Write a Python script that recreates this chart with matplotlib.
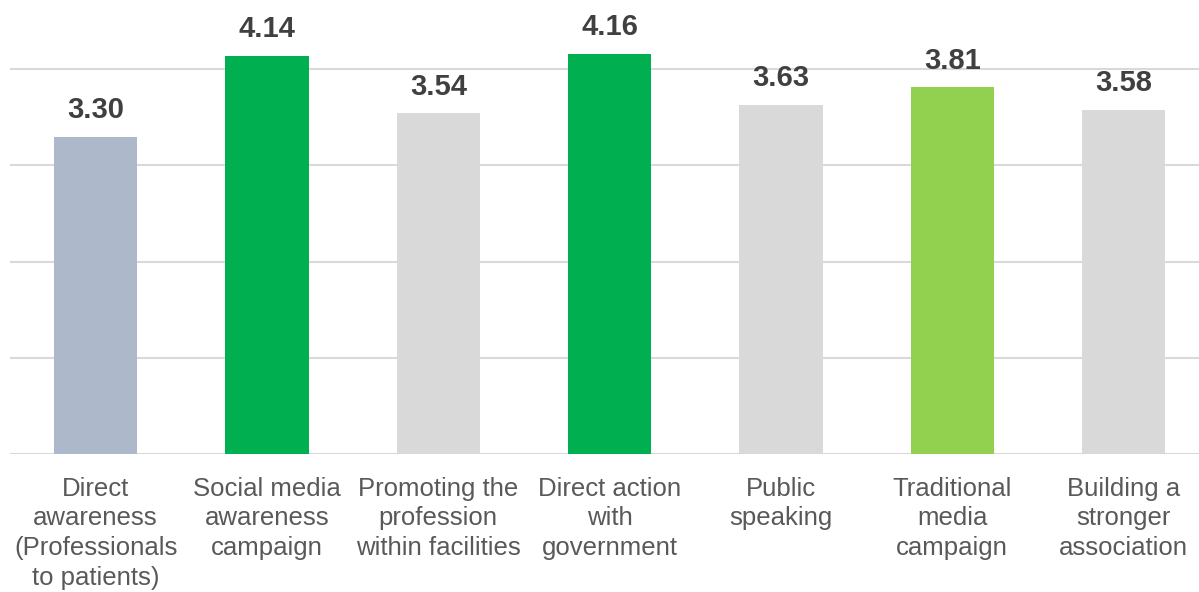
import matplotlib
matplotlib.use("Agg")
import matplotlib.pyplot as plt

categories = [
    "Direct\nawareness\n(Professionals\nto patients)",
    "Social media\nawareness\ncampaign",
    "Promoting the\nprofession\nwithin facilities",
    "Direct action\nwith\ngovernment",
    "Public\nspeaking",
    "Traditional\nmedia\ncampaign",
    "Building a\nstronger\nassociation",
]
values = [3.30, 4.14, 3.54, 4.16, 3.63, 3.81, 3.58]
colors = ["#ADB9CA", "#00B050", "#D9D9D9", "#00B050", "#D9D9D9", "#92D050", "#D9D9D9"]

plt.rcParams['font.family'] = ['Liberation Sans', 'DejaVu Sans']

W, H = 1199, 592
fig = plt.figure(figsize=(W / 100, H / 100), dpi=100)
base = 454.3
ax = fig.add_axes([10 / W, 1 - base / H, (W - 10) / W, base / H])

x = list(range(len(categories)))
ax.bar(x, values, width=0.485, color=colors, zorder=3)
ax.set_xlim(-0.5, 6.44)
ax.set_ylim(0, base / 96.3)
ax.set_yticks([0, 1, 2, 3, 4])
ax.yaxis.grid(True, color="#D9D9D9", linewidth=1.5, zorder=0)
ax.tick_params(axis='y', left=False, labelleft=False)
for s in ax.spines.values():
    s.set_visible(False)
ax.set_xticks(x)
ax.set_xticklabels(categories, fontsize=18.5, color="#595959", linespacing=1.31)
ax.tick_params(axis='x', length=0, pad=16)

for xi, v in zip(x, values):
    ax.annotate(f"{v:.2f}", (xi, v), xytext=(0, 9), textcoords="offset points",
                ha="center", va="bottom", fontsize=21, fontweight="bold", color="#404040")

fig.savefig("out.png", dpi=100)
